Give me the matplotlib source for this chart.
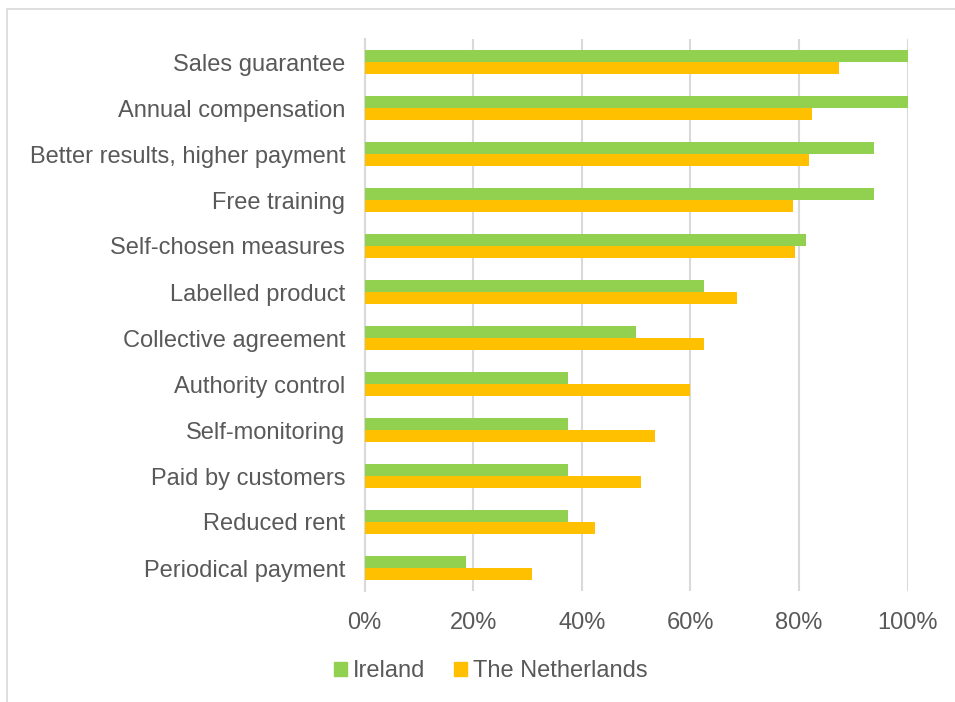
import matplotlib.pyplot as plt
import numpy as np
from matplotlib.patches import Patch, Rectangle

plt.rcParams['font.family'] = ['Liberation Sans', 'DejaVu Sans']

# Dane (od góry do dołu)
categories = [
    "Sales guarantee", "Annual compensation", "Better results, higher payment",
    "Free training", "Self-chosen measures", "Labelled product",
    "Collective agreement", "Authority control", "Self-monitoring",
    "Paid by customers", "Reduced rent", "Periodical payment",
]
ireland = [100, 100, 93.75, 93.75, 81.25, 62.5, 50, 37.5, 37.5, 37.5, 37.5, 18.75]
netherlands = [87.4, 82.5, 81.9, 79.0, 79.3, 68.6, 62.6, 59.9, 53.5, 50.9, 42.4, 30.8]
xticks = [0, 20, 40, 60, 80, 100]
xtick_labels = ["0%", "20%", "40%", "60%", "80%", "100%"]

GREEN = '#92D050'
ORANGE = '#FFC000'
GRID = '#D9D9D9'
TEXT = '#595959'

W, H = 955, 702
fig = plt.figure(figsize=(W / 100, H / 100), dpi=100)
ax = fig.add_axes([364.5 / W, 1 - 591 / H, 543 / W, 552 / H])

# ramka wykresu (wychodzi poza prawą i dolną krawędź)
fig.patches.append(Rectangle((7 / W, -0.1), 1.2, 1 - 9 / H + 0.1,
                             transform=fig.transFigure, fill=False,
                             edgecolor=GRID, linewidth=1.2))

y = np.arange(len(categories))
h = 0.255
ax.barh(y - h / 2, ireland, height=h, color=GREEN, label="Ireland", zorder=3)
ax.barh(y + h / 2, netherlands, height=h, color=ORANGE, label="The Netherlands", zorder=3)

ax.set_ylim(len(categories) - 0.5, -0.5)
ax.set_xlim(0, 100)
ax.set_yticks(y)
ax.set_yticklabels(categories, fontsize=17, color=TEXT)
ax.set_xticks(xticks)
ax.set_xticklabels(xtick_labels, fontsize=17, color=TEXT)
ax.tick_params(axis='both', length=0)
ax.tick_params(axis='y', pad=14)
ax.tick_params(axis='x', pad=15)

ax.grid(axis='x', color=GRID, linewidth=1.5, zorder=0)
for s in ['top', 'right', 'bottom']:
    ax.spines[s].set_visible(False)
ax.spines['left'].set_color(GRID)
ax.spines['left'].set_linewidth(1.5)

handles = [Patch(color=GREEN, label="Ireland"),
           Patch(color=ORANGE, label="The Netherlands")]
fig.legend(handles=handles, loc='center', bbox_to_anchor=(491 / W, 1 - 671 / H),
           ncol=2, frameon=False, fontsize=17, handlelength=0.55, handleheight=0.55,
           handletextpad=0.25, columnspacing=1.2, labelcolor=TEXT)

fig.savefig("out.png", dpi=100)
